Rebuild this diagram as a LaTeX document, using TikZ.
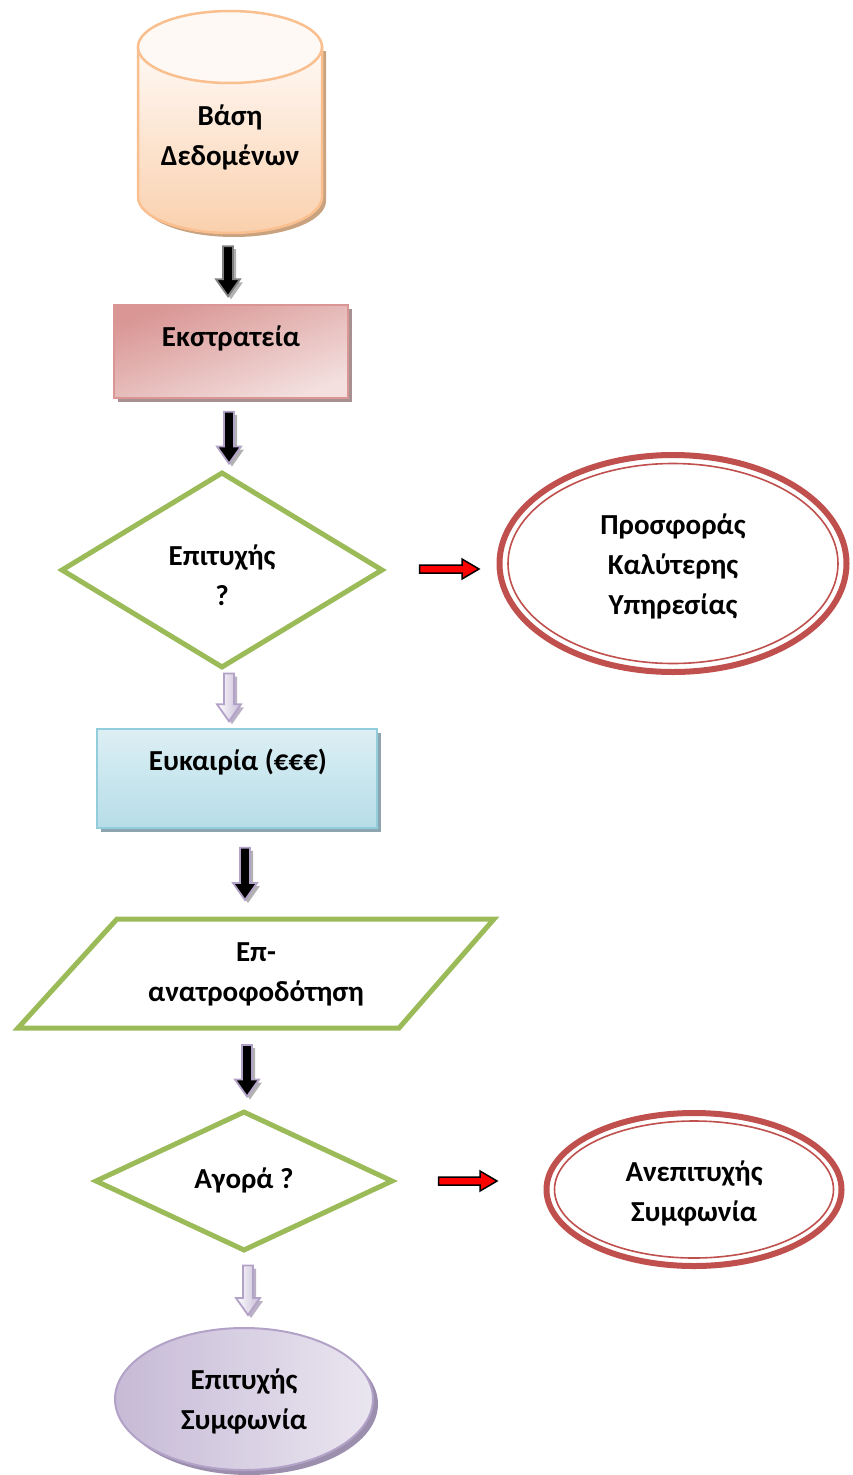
\documentclass[tikz,border=0pt]{standalone}
\usepackage{fontspec}
\setmainfont{Carlito}
\usetikzlibrary{shapes.geometric,shadows,calc}
\definecolor{grn}{HTML}{9BBB59}
\definecolor{redl}{HTML}{C0504D}
\definecolor{orgl}{HTML}{FABF8F}
\definecolor{orgA}{HTML}{FFF9F5}
\definecolor{orgB}{HTML}{FAD0AD}
\definecolor{orgS}{HTML}{C9A27F}
\definecolor{pinkD}{HTML}{D99694}
\definecolor{pinkL}{HTML}{F3E0DF}
\definecolor{pinkS}{HTML}{A89090}
\definecolor{cyanA}{HTML}{DCEFF4}
\definecolor{cyanB}{HTML}{B6DDE8}
\definecolor{cyanl}{HTML}{92CDDC}
\definecolor{cyanS}{HTML}{8DA5B0}
\definecolor{purl}{HTML}{B3A2C7}
\definecolor{purA}{HTML}{C6BAD6}
\definecolor{purB}{HTML}{EAE6F0}
\definecolor{purS}{HTML}{9C8FAE}
\begin{document}
\begin{tikzpicture}[x=1pt,y=-1pt,
  txt/.style={font=\fontsize{29}{40}\selectfont\bfseries, align=center, inner sep=0pt},
  dnblk/.style={to path={let \p1=(\tikztostart), \p2=(\tikztotarget) in
     -- (\x1-5pt,\y1) -- (\x1-5pt,\y2+17pt) -- (\x1-12pt,\y2+17pt) -- (\x1,\y2)
     -- (\x1+12pt,\y2+17pt) -- (\x1+5pt,\y2+17pt) -- (\x1+5pt,\y1) -- cycle}},
  rtblk/.style={to path={let \p1=(\tikztostart), \p2=(\tikztotarget) in
     -- (\x1,\y1+4pt) -- (\x2-17pt,\y1+4pt) -- (\x2-17pt,\y1+10pt) -- (\x2,\y1)
     -- (\x2-17pt,\y1-10pt) -- (\x2-17pt,\y1-4pt) -- (\x1,\y1-4pt) -- cycle}},
  darkarr/.style={dnblk, fill=black, draw=purl, line width=1.8pt,
     drop shadow={shadow xshift=3pt,shadow yshift=-3pt,fill=gray!60,opacity=1}},
  greyarr/.style={darkarr, draw=gray},
  lightarr/.style={dnblk, left color=white, right color=purA, draw=purl, line width=1.8pt,
     drop shadow={shadow xshift=3pt,shadow yshift=-3pt,fill=purS!70,opacity=1}},
  redarr/.style={rtblk, fill=red, draw=black, line width=1.5pt},
  gshape/.style={draw=grn, line width=5pt, fill=white, inner sep=0pt},
  redell/.style={ellipse, draw=redl, line width=6pt, fill=white, inner sep=0pt},
  redin/.style={draw=redl, line width=1.6pt}
]
\useasboundingbox (0,0) rectangle (852,1475);

% ---- database cylinder
\node[minimum width=184, minimum height=222, inner sep=0pt] (db) at (230,122) {};
\path[top color=orgA, bottom color=orgB, draw=orgl, line width=2.5pt,
  drop shadow={shadow xshift=4pt,shadow yshift=-4pt,fill=orgS,opacity=1}]
  (138,47) -- (138,197) arc[start angle=180, end angle=0, x radius=92, y radius=36] -- (322,47) -- cycle;
\draw[orgl, line width=2.5pt, fill=orgA] (230,47) ellipse [x radius=92, y radius=36];
\node[txt] (dbtxt) at (230,137) {Βάση\\Δεδομένων};

% ---- campaign
\node[draw=pinkD, line width=1.5pt, minimum width=234, minimum height=93, inner sep=0pt,
  left color=pinkD, right color=pinkL, shading angle=20,
  drop shadow={shadow xshift=4pt,shadow yshift=-4pt,fill=pinkS,opacity=1}] (camp) at (231,351.5) {};
\node[txt] (camptxt) at (231,338) {Εκστρατεία};

% ---- success diamond
\node[diamond, gshape, minimum width=322, minimum height=196] (succ) at (222,570) {};
\node[txt] (succtxt) at (222,575) {Επιτυχής\\?};

% ---- offer ellipse
\node[redell, minimum width=347, minimum height=217] (offer) at (673,563.5) {};
\draw[redin] (offer.center) ellipse [x radius=165, y radius=100];
\node[txt] (offertxt) at (673,566) {Προσφοράς\\Καλύτερης\\Υπηρεσίας};

% ---- opportunity
\node[draw=cyanl, line width=1.5pt, minimum width=280, minimum height=99, inner sep=0pt,
  top color=cyanA, bottom color=cyanB,
  drop shadow={shadow xshift=4pt,shadow yshift=-4pt,fill=cyanS,opacity=1}] (opp) at (237,778.5) {};
\node[txt] (opptxt) at (238,762) {Ευκαιρία (€€€)};

% ---- feedback parallelogram
\coordinate (fbN) at (256,919);
\coordinate (fbS) at (256,1028);
\draw[draw=grn, line width=5pt, fill=white] (117,919) -- (494,919) -- (399,1028) -- (18,1028) -- cycle;
\node[txt] (fb) at (256,974) {Επ-\\ανατροφοδότηση};

% ---- buy diamond
\node[diamond, gshape, minimum width=298, minimum height=140] (buy) at (244,1181) {};
\node[txt] (buytxt) at (244,1180) {Αγορά ?};

% ---- failed deal
\node[redell, minimum width=295, minimum height=153] (fail) at (694,1189.5) {};
\draw[redin] (fail.center) ellipse [x radius=139.5, y radius=68.5];
\node[txt] (failtxt) at (694,1193) {Ανεπιτυχής\\Συμφωνία};

% ---- successful deal
\node[ellipse, draw=purl, line width=2pt, minimum width=258, minimum height=142, inner sep=0pt,
  left color=purA, right color=purB,
  drop shadow={shadow xshift=5pt,shadow yshift=-5pt,fill=purS,opacity=1}] (deal) at (244,1399) {};
\node[txt] (dealtxt) at (244,1401) {Επιτυχής\\Συμφωνία};

% ---- connectors
\draw[greyarr] ($(db.south)+(-2,13)$) to ($(camp.north)+(-3,-8)$);
\draw[darkarr] ($(camp.south)+(-2,13)$) to ($(succ.north)+(7,-6)$);
\draw[lightarr] ($(succ.south)+(7,3)$) to ($(opp.north)+(-8,-7)$);
\draw[redarr] ($(succ.east)+(34,-1)$) to ($(offer.west)+(-17.5,5.5)$);
\draw[darkarr] ($(opp.south)+(8,19)$) to ($(fbN)+(-11,-19)$);
\draw[darkarr] ($(fbS)+(-9,17)$) to ($(buy.north)+(3,-12)$);
\draw[redarr] ($(buy.east)+(43,0)$) to ($(fail.west)+(-46.5,-8.5)$);
\draw[lightarr] ($(buy.south)+(4,12)$) to ($(deal.north)+(4,-12)$);
\end{tikzpicture}
\end{document}
